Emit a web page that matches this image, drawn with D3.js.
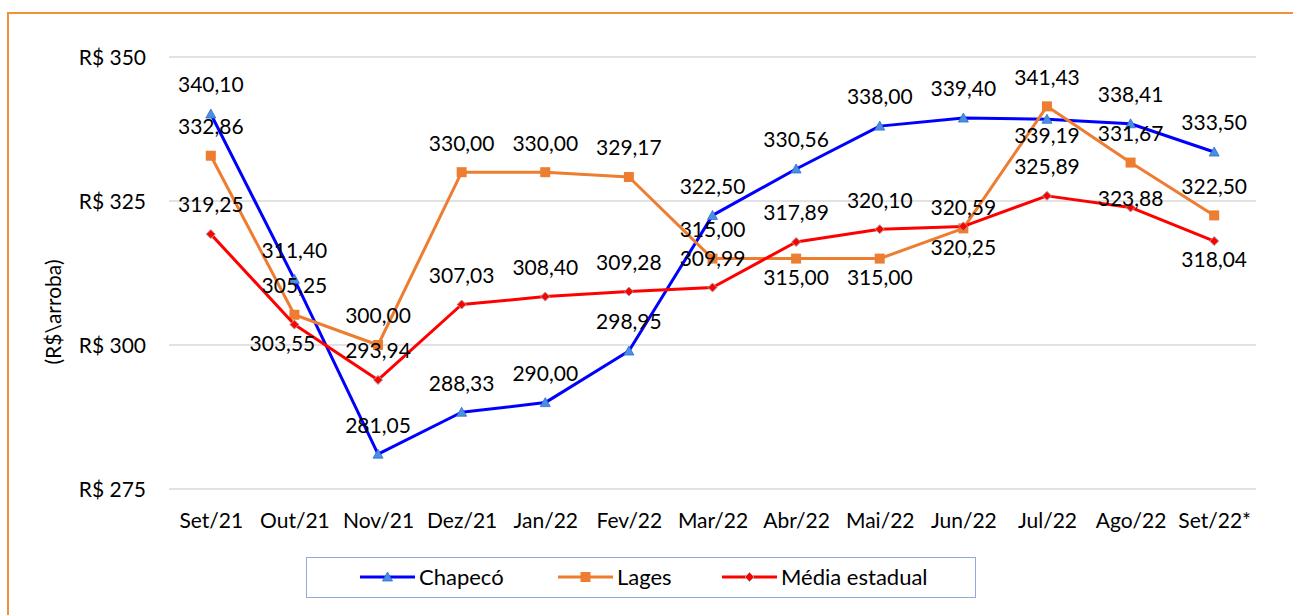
<!DOCTYPE html>
<html>
<head>
    <meta charset="utf-8">
    <title>Preço do boi gordo</title>
    <script src="https://d3js.org/d3.v7.min.js"></script>
    <style>
        body { margin: 0; background: #fff; }
        text { font-family: Lato, "Open Sans", sans-serif; fill: #000; }
    </style>
</head>
<body>
<div id="chart"></div>
<script type="text/javascript">

    // dados
    let meses = ["Set/21", "Out/21", "Nov/21", "Dez/21", "Jan/22", "Fev/22", "Mar/22",
                 "Abr/22", "Mai/22", "Jun/22", "Jul/22", "Ago/22", "Set/22*"];
    let chapeco = [340.10, 311.40, 281.05, 288.33, 290.00, 298.95, 322.50,
                   330.56, 338.00, 339.40, 339.19, 338.41, 333.50];
    let lages = [332.86, 305.25, 300.00, 330.00, 330.00, 329.17, 315.00,
                 315.00, 315.00, 320.25, 341.43, 331.67, 322.50];
    let media = [319.25, 303.55, 293.94, 307.03, 308.40, 309.28, 309.99,
                 317.89, 320.10, 320.59, 325.89, 323.88, 318.04];
    let yTicks = [275, 300, 325, 350];

    // deslocamento vertical dos rótulos (acima / abaixo do ponto)
    let A = -29, B = 19;
    let series = [
        {nome: "Chapecó", valores: chapeco, cor: "#0000ff", marca: "tri",
         dy: [A, A, A, A, A, A, A, A, A, A, 16, A, A]},
        {nome: "Lages", valores: lages, cor: "#ed7d31", marca: "sq",
         dy: [A, A, A, A, A, A, A, B, B, B, A, A, A]},
        {nome: "Média estadual", valores: media, cor: "#ff0000", marca: "dia",
         dy: [A, B, A, A, A, A, A, A, A, -19, A, -9, B]}
    ];
    let dxMedia = [0, -12, 0, 0, 0, 0, 0, 0, 0, 0, 0, 0, 0];

    let W = 1293, H = 615;
    let svg = d3.select("#chart").append("svg")
        .attr("width", W).attr("height", H);

    // moldura laranja
    svg.append("path")
        .attr("d", "M8,615 L8,13 L1300,13")
        .attr("fill", "none")
        .attr("stroke", "#f0913c")
        .attr("stroke-width", 2);

    let x = d3.scalePoint().domain(meses).range([169, 1256]).padding(0.5);
    let y = d3.scaleLinear().domain([275, 350]).range([489, 57]);

    // linhas de grade
    svg.selectAll(".grid")
        .data(yTicks)
        .enter()
        .append("line")
        .attr("x1", 169).attr("x2", 1256)
        .attr("y1", d => y(d)).attr("y2", d => y(d))
        .attr("stroke", "#d9d9d9")
        .attr("stroke-width", 1.5);

    // eixo y
    let yAxis = d3.axisLeft(y).tickValues(yTicks)
        .tickFormat(d => "R$ " + d).tickSize(0).tickPadding(0);
    let gy = svg.append("g").attr("transform", "translate(146,0)").call(yAxis);
    gy.select(".domain").remove();
    gy.selectAll("text").attr("font-size", "21px").attr("dy", "0.35em")
        .style("font-family", "Lato, sans-serif");

    // eixo x
    let xAxis = d3.axisBottom(x).tickSize(0).tickPadding(0);
    let gx = svg.append("g").attr("transform", "translate(0,521)").call(xAxis);
    gx.select(".domain").remove();
    gx.selectAll("text").attr("font-size", "21px").attr("dy", "0.35em")
        .style("font-family", "Lato, sans-serif");

    // título eixo vertical
    svg.append("text")
        .attr("transform", "translate(61,312) rotate(-90)")
        .attr("text-anchor", "middle")
        .attr("font-size", "21px")
        .text("(R$\\arroba)");

    function marcador(g, tipo, cor) {
        if (tipo === "tri") {
            g.append("path").attr("d", "M0,-5 L5,4 L-5,4 Z")
                .attr("fill", "#4a8fe0").attr("stroke", "#2e6fd0").attr("stroke-width", 0.8);
        } else if (tipo === "sq") {
            g.append("rect").attr("x", -5).attr("y", -5).attr("width", 10).attr("height", 10)
                .attr("fill", cor);
        } else {
            g.append("path").attr("d", "M0,-4.5 L4.5,0 L0,4.5 L-4.5,0 Z")
                .attr("fill", cor).attr("stroke", "#a0a0a0").attr("stroke-width", 1);
        }
    }

    let linha = d3.line()
        .x((d, i) => x(meses[i]))
        .y(d => y(d));

    series.forEach(function(s) {
        svg.append("path")
            .datum(s.valores)
            .attr("fill", "none")
            .attr("stroke", s.cor)
            .attr("stroke-width", 3)
            .attr("stroke-linejoin", "round")
            .attr("d", linha);

        svg.selectAll(null)
            .data(s.valores)
            .enter()
            .append("g")
            .attr("transform", (d, i) => "translate(" + x(meses[i]) + "," + y(d) + ")")
            .each(function() { marcador(d3.select(this), s.marca, s.cor); });
    });

    // rótulos de dados
    series.forEach(function(s, k) {
        svg.selectAll(null)
            .data(s.valores)
            .enter()
            .append("text")
            .attr("x", (d, i) => x(meses[i]) + (k === 2 ? dxMedia[i] : 0))
            .attr("y", (d, i) => y(d) + s.dy[i])
            .attr("dy", "0.35em")
            .attr("text-anchor", "middle")
            .attr("font-size", "21px")
            .text(d => d3.format(".2f")(d).replace(".", ","));
    });

    // legenda
    svg.append("rect")
        .attr("x", 306.5).attr("y", 557.5)
        .attr("width", 669).attr("height", 40)
        .attr("fill", "#fff")
        .attr("stroke", "#8faadc")
        .attr("stroke-width", 1);

    let legX = [360, 558, 722];
    series.forEach(function(s, k) {
        let g = svg.append("g").attr("transform", "translate(" + legX[k] + ",577)");
        g.append("line").attr("x1", 0).attr("x2", 55)
            .attr("stroke", s.cor).attr("stroke-width", 3);
        let m = g.append("g").attr("transform", "translate(27.5,0)");
        marcador(m, s.marca, s.cor);
        g.append("text").attr("x", 59).attr("dy", "0.35em")
            .attr("font-size", "22px")
            .text(s.nome);
    });

</script>
</body>
</html>
